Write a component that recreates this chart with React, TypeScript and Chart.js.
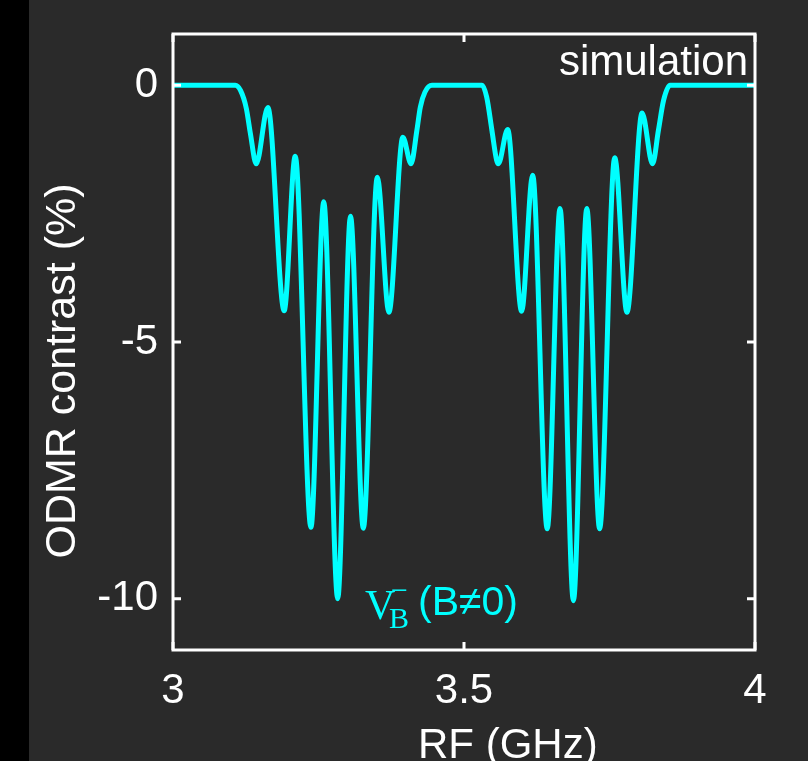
import React, { useEffect, useRef } from "react";
import { Chart, registerables } from "chart.js";

Chart.register(...registerables);

// RF frequency (GHz) and ODMR contrast (%)
const freqGHz = [
  3.0, 3.107, 3.116, 3.126, 3.133, 3.143, 3.163, 3.191, 3.21, 3.237, 3.259,
  3.283, 3.305, 3.327, 3.351, 3.371, 3.395, 3.409, 3.419, 3.425, 3.433, 3.445,
  3.531, 3.539, 3.548, 3.556, 3.559, 3.575, 3.599, 3.618, 3.643, 3.665, 3.688,
  3.711, 3.733, 3.759, 3.78, 3.806, 3.824, 3.834, 3.843, 3.854, 4.0,
];
const contrast = [
  0, 0, -0.1, -0.45, -0.94, -1.53, -0.43, -4.39, -1.38, -8.61, -2.27,
  -10.0, -2.55, -8.63, -1.79, -4.42, -1.01, -1.53, -0.88, -0.42, -0.13, 0,
  0, -0.23, -0.88, -1.46, -1.53, -0.86, -4.4, -1.75, -8.64, -2.4, -10.04,
  -2.4, -8.64, -1.41, -4.42, -0.54, -1.53, -0.88, -0.29, 0, 0,
];
const xTicks = [3, 3.5, 4];
const xTickLabels = ["3", "3.5", "4"];
const yTicks = [-10, -5, 0];
const yTickLabels = ["-10", "-5", "0"];
const xTitle = "RF (GHz)";
const yTitle = "ODMR contrast (%)";
const cornerText = "simulation";

const SANS = '"Liberation Sans", Arial, Helvetica, sans-serif';
const SERIF = '"Liberation Serif", "DejaVu Serif", serif';
const CYAN = "#00ffff";
const WHITE = "#ffffff";

const decorPlugin = {
  id: "decor",
  afterDraw(chart: any) {
    const { ctx, chartArea, scales } = chart;
    const { left, right, top, bottom } = chartArea;
    const x = scales.x;
    const y = scales.y;
    ctx.save();
    // frame
    ctx.strokeStyle = WHITE;
    ctx.lineWidth = 3;
    ctx.strokeRect(left, top, right - left, bottom - top);
    // inward ticks
    const tl = 8;
    yTicks.forEach((v) => {
      const py = y.getPixelForValue(v);
      ctx.beginPath();
      ctx.moveTo(left, py);
      ctx.lineTo(left + tl, py);
      ctx.moveTo(right, py);
      ctx.lineTo(right - tl, py);
      ctx.stroke();
    });
    xTicks.forEach((v) => {
      const px = x.getPixelForValue(v);
      ctx.beginPath();
      ctx.moveTo(px, bottom);
      ctx.lineTo(px, bottom - tl);
      ctx.moveTo(px, top);
      ctx.lineTo(px, top + tl);
      ctx.stroke();
    });
    // corner text
    ctx.fillStyle = WHITE;
    ctx.font = `42px ${SANS}`;
    ctx.textAlign = "right";
    ctx.textBaseline = "alphabetic";
    ctx.fillText(cornerText, right - 7, top + 41);
    // axis titles
    ctx.textAlign = "left";
    ctx.fillText(xTitle, 418, 758);
    ctx.save();
    ctx.translate(75, 371);
    ctx.rotate(-Math.PI / 2);
    ctx.textAlign = "center";
    ctx.font = `43px ${SANS}`;
    ctx.fillText(yTitle, 0, 0);
    ctx.restore();
    // V_B^-(B≠0) label
    ctx.fillStyle = CYAN;
    ctx.textAlign = "left";
    ctx.font = `42px ${SERIF}`;
    ctx.fillText("V", 365, 619);
    ctx.font = `30px ${SERIF}`;
    ctx.fillText("B", 389, 628);
    ctx.fillText("\u2212", 391, 600);
    ctx.font = `41px ${SANS}`;
    ctx.fillText("(B\u22600)", 418, 615);
    ctx.restore();
  },
};

export default function App() {
  const canvasRef = useRef<HTMLCanvasElement | null>(null);

  useEffect(() => {
    document.body.style.margin = "0";
    const canvas = canvasRef.current;
    if (!canvas) return;
    const chart = new Chart(canvas, {
      type: "line",
      data: {
        datasets: [
          {
            data: freqGHz.map((f, i) => ({ x: f, y: contrast[i] })),
            borderColor: CYAN,
            borderWidth: 5,
            pointRadius: 0,
            fill: false,
            cubicInterpolationMode: "monotone",
          },
        ],
      },
      options: {
        responsive: false,
        animation: false,
        layout: { padding: { left: 0, top: 34, right: 53, bottom: 0 } },
        plugins: {
          legend: { display: false },
          tooltip: { enabled: false },
        },
        scales: {
          x: {
            type: "linear",
            min: 3,
            max: 4,
            grid: { display: false, drawTicks: false },
            border: { display: false },
            afterBuildTicks: (s: any) => {
              s.ticks = xTicks.map((v) => ({ value: v }));
            },
            afterFit: (s: any) => {
              s.height = 111;
              s.paddingLeft = 0;
              s.paddingRight = 0;
            },
            ticks: {
              color: WHITE,
              padding: 16,
              maxRotation: 0,
              autoSkip: false,
              font: { family: SANS, size: 42 },
              callback: (v: any) => {
                const i = xTicks.indexOf(Number(v));
                return i >= 0 ? xTickLabels[i] : "";
              },
            },
          },
          y: {
            type: "linear",
            min: -11,
            max: 1,
            grid: { display: false, drawTicks: false },
            border: { display: false },
            afterBuildTicks: (s: any) => {
              s.ticks = yTicks.map((v) => ({ value: v }));
            },
            afterFit: (s: any) => {
              s.width = 173;
              s.paddingTop = 0;
              s.paddingBottom = 0;
            },
            ticks: {
              color: WHITE,
              padding: 15,
              autoSkip: false,
              font: { family: SANS, size: 42 },
              callback: (v: any) => {
                const i = yTicks.indexOf(Number(v));
                return i >= 0 ? yTickLabels[i] : "";
              },
            },
          },
        },
      },
      plugins: [decorPlugin],
    } as any);
    return () => chart.destroy();
  }, []);

  return (
    <div
      style={{
        position: "relative",
        width: 808,
        height: 761,
        background: "#2a2a2a",
        overflow: "hidden",
      }}
    >
      <div
        style={{
          position: "absolute",
          left: 0,
          top: 0,
          width: 29,
          height: 761,
          background: "#000000",
        }}
      />
      <canvas
        ref={canvasRef}
        width={808}
        height={761}
        style={{ position: "absolute", left: 0, top: 0, width: 808, height: 761 }}
      />
    </div>
  );
}
